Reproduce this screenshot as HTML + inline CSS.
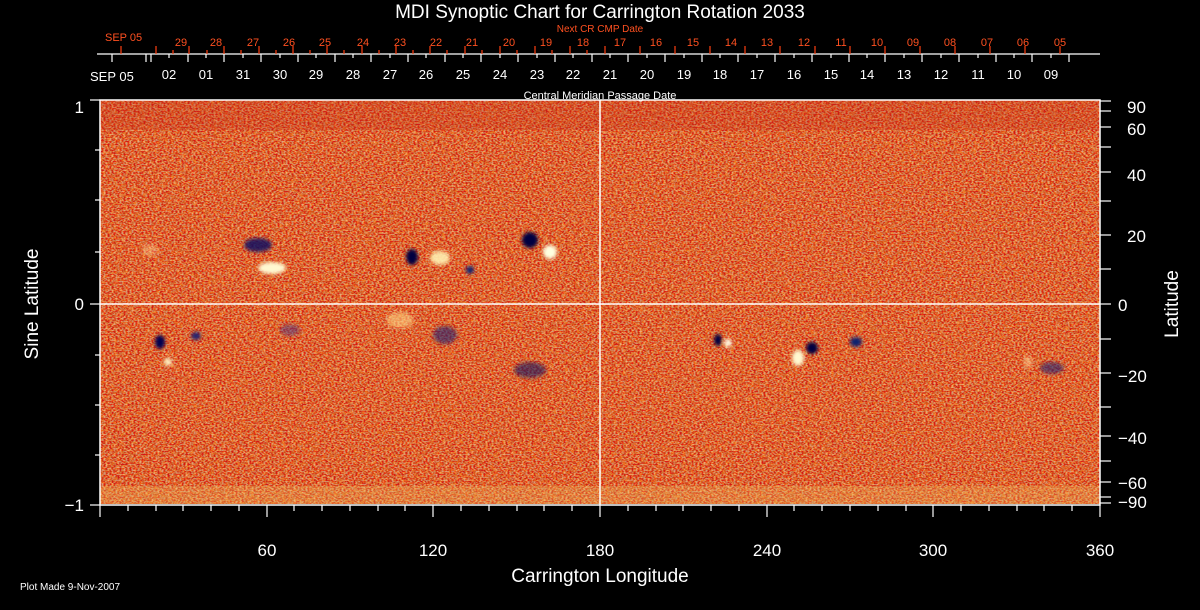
<!DOCTYPE html>
<html><head><meta charset="utf-8"><style>
html,body{margin:0;padding:0;background:#000;}
svg{display:block;font-family:"Liberation Sans",sans-serif;}
</style></head><body>
<svg width="1200" height="610" viewBox="0 0 1200 610" xmlns="http://www.w3.org/2000/svg">
<defs>
<filter id="n" x="0" y="0" width="100%" height="100%">
<feTurbulence type="fractalNoise" baseFrequency="0.5 0.7" numOctaves="2" seed="3"/>
<feColorMatrix type="matrix" values="0 0 0 0 1  0 0 0 2.4 -0.9  0 0 0 2.0 -1.0  0 0 0 0 1"/>
</filter>
<filter id="n2" x="0" y="0" width="100%" height="100%">
<feTurbulence type="fractalNoise" baseFrequency="0.35 0.5" numOctaves="1" seed="9"/>
<feColorMatrix type="matrix" values="0 0 0 -3 1.6  0 0 0 -3 1.5  0 0 0 0 0.2  0 0 0 0 1"/>
</filter>
<filter id="b" x="-50%" y="-50%" width="200%" height="200%"><feGaussianBlur stdDeviation="1.8"/></filter>
</defs>
<rect width="1200" height="610" fill="#000"/>
<rect x="100" y="100" width="1000" height="404" fill="#dd4418"/>
<rect x="100" y="100" width="1000" height="404" filter="url(#n)" opacity="0.6"/>
<rect x="100" y="100" width="1000" height="404" filter="url(#n2)" opacity="0.12"/>
<rect x="100" y="100" width="1000" height="30" fill="#c02818" opacity="0.25"/>
<rect x="100" y="486" width="1000" height="18" fill="#f0c060" opacity="0.3"/>
<g filter="url(#b)">
<ellipse cx="272" cy="268" rx="14" ry="6" fill="#fff8d0"/>
<ellipse cx="258" cy="245" rx="14" ry="7" fill="#101060" opacity="0.85"/>
<ellipse cx="412" cy="257" rx="6" ry="8" fill="#000040"/>
<ellipse cx="440" cy="258" rx="10" ry="7" fill="#fff0b0" opacity="0.9"/>
<ellipse cx="530" cy="240" rx="8" ry="8" fill="#000040"/>
<ellipse cx="550" cy="252" rx="7" ry="7" fill="#ffffe0"/>
<ellipse cx="470" cy="270" rx="4" ry="4" fill="#102070"/>
<ellipse cx="160" cy="342" rx="5" ry="7" fill="#000050"/>
<ellipse cx="168" cy="362" rx="4" ry="4" fill="#fff0c0"/>
<ellipse cx="196" cy="336" rx="5" ry="4" fill="#202070"/>
<ellipse cx="290" cy="330" rx="10" ry="6" fill="#503080" opacity="0.5"/>
<ellipse cx="400" cy="320" rx="14" ry="8" fill="#ffd080" opacity="0.6"/>
<ellipse cx="445" cy="335" rx="12" ry="9" fill="#202070" opacity="0.6"/>
<ellipse cx="530" cy="370" rx="16" ry="8" fill="#101060" opacity="0.6"/>
<ellipse cx="718" cy="340" rx="4" ry="6" fill="#000040"/>
<ellipse cx="728" cy="343" rx="4" ry="4" fill="#fff8e0"/>
<ellipse cx="798" cy="358" rx="6" ry="8" fill="#fff8d0"/>
<ellipse cx="812" cy="348" rx="6" ry="6" fill="#000040"/>
<ellipse cx="856" cy="342" rx="6" ry="5" fill="#102070"/>
<ellipse cx="1052" cy="368" rx="12" ry="6" fill="#202070" opacity="0.6"/>
<ellipse cx="1028" cy="362" rx="4" ry="6" fill="#ffd090" opacity="0.6"/>
<ellipse cx="150" cy="250" rx="8" ry="6" fill="#ffd090" opacity="0.4"/>
</g>
<line x1="600" y1="100" x2="600" y2="505" stroke="#fff" stroke-width="1.5"/>
<line x1="100" y1="304" x2="1100" y2="304" stroke="#fff" stroke-width="1.5"/>
<rect x="100" y="100" width="1000" height="405" fill="none" stroke="#fff" stroke-width="1.5"/>
<g stroke="#fff" stroke-width="1.2">
<line x1="90" y1="100" x2="100" y2="100"/><line x1="90" y1="304" x2="100" y2="304"/><line x1="90" y1="505" x2="100" y2="505"/>
<line x1="95" y1="150" x2="100" y2="150"/><line x1="95" y1="200" x2="100" y2="200"/><line x1="95" y1="252" x2="100" y2="252"/>
<line x1="95" y1="355" x2="100" y2="355"/><line x1="95" y1="405" x2="100" y2="405"/><line x1="95" y1="455" x2="100" y2="455"/>
</g>
<g fill="#fff" font-size="17" text-anchor="end">
<text x="84" y="113">1</text><text x="84" y="310">0</text><text x="84" y="511">−1</text>
</g>
<text x="38" y="304" fill="#fff" font-size="19" text-anchor="middle" transform="rotate(-90 38 304)">Sine Latitude</text>
<g stroke="#fff" stroke-width="1.2">
<line x1="1100" y1="101" x2="1111" y2="101"/><line x1="1100" y1="111" x2="1111" y2="111"/>
<line x1="1100" y1="127" x2="1111" y2="127"/><line x1="1100" y1="147" x2="1111" y2="147"/>
<line x1="1100" y1="172" x2="1111" y2="172"/><line x1="1100" y1="201" x2="1111" y2="201"/>
<line x1="1100" y1="235" x2="1111" y2="235"/><line x1="1100" y1="269" x2="1111" y2="269"/>
<line x1="1100" y1="304" x2="1111" y2="304"/><line x1="1100" y1="339" x2="1111" y2="339"/>
<line x1="1100" y1="373" x2="1111" y2="373"/><line x1="1100" y1="407" x2="1111" y2="407"/>
<line x1="1100" y1="436" x2="1111" y2="436"/><line x1="1100" y1="461" x2="1111" y2="461"/>
<line x1="1100" y1="482" x2="1111" y2="482"/><line x1="1100" y1="497" x2="1111" y2="497"/>
<line x1="1100" y1="503" x2="1111" y2="503"/>
</g>
<g fill="#fff" font-size="17">
<text x="1127" y="113">90</text><text x="1127" y="135">60</text><text x="1127" y="181">40</text>
<text x="1127" y="242">20</text><text x="1118" y="311">0</text><text x="1118" y="382">−20</text>
<text x="1118" y="444">−40</text><text x="1118" y="489">−60</text><text x="1118" y="508">−90</text>
</g>
<text x="1178" y="304" fill="#fff" font-size="19" text-anchor="middle" transform="rotate(-90 1178 304)">Latitude</text>
<g stroke="#fff" stroke-width="1.2">
<line x1="100" y1="505" x2="100" y2="517"/><line x1="267" y1="505" x2="267" y2="517"/><line x1="433" y1="505" x2="433" y2="517"/>
<line x1="600" y1="505" x2="600" y2="517"/><line x1="767" y1="505" x2="767" y2="517"/><line x1="933" y1="505" x2="933" y2="517"/><line x1="1100" y1="505" x2="1100" y2="517"/>
<line x1="128" y1="505" x2="128" y2="511"/><line x1="156" y1="505" x2="156" y2="511"/><line x1="183" y1="505" x2="183" y2="511"/><line x1="211" y1="505" x2="211" y2="511"/><line x1="239" y1="505" x2="239" y2="511"/>
<line x1="294" y1="505" x2="294" y2="511"/><line x1="322" y1="505" x2="322" y2="511"/><line x1="350" y1="505" x2="350" y2="511"/><line x1="378" y1="505" x2="378" y2="511"/><line x1="405" y1="505" x2="405" y2="511"/>
<line x1="461" y1="505" x2="461" y2="511"/><line x1="489" y1="505" x2="489" y2="511"/><line x1="517" y1="505" x2="517" y2="511"/><line x1="544" y1="505" x2="544" y2="511"/><line x1="572" y1="505" x2="572" y2="511"/>
<line x1="628" y1="505" x2="628" y2="511"/><line x1="656" y1="505" x2="656" y2="511"/><line x1="683" y1="505" x2="683" y2="511"/><line x1="711" y1="505" x2="711" y2="511"/><line x1="739" y1="505" x2="739" y2="511"/>
<line x1="794" y1="505" x2="794" y2="511"/><line x1="822" y1="505" x2="822" y2="511"/><line x1="850" y1="505" x2="850" y2="511"/><line x1="878" y1="505" x2="878" y2="511"/><line x1="906" y1="505" x2="906" y2="511"/>
<line x1="961" y1="505" x2="961" y2="511"/><line x1="989" y1="505" x2="989" y2="511"/><line x1="1017" y1="505" x2="1017" y2="511"/><line x1="1044" y1="505" x2="1044" y2="511"/><line x1="1072" y1="505" x2="1072" y2="511"/>
</g>
<g fill="#fff" font-size="17" text-anchor="middle">
<text x="267" y="556">60</text><text x="433" y="556">120</text><text x="600" y="556">180</text>
<text x="767" y="556">240</text><text x="933" y="556">300</text><text x="1100" y="556">360</text>
</g>
<text x="600" y="582" fill="#fff" font-size="19" text-anchor="middle">Carrington Longitude</text>
<text x="20" y="590" fill="#fff" font-size="10">Plot Made  9-Nov-2007</text>
<text x="600" y="18" fill="#fff" font-size="19" text-anchor="middle">MDI Synoptic Chart for Carrington Rotation 2033</text>
<text x="600" y="32" fill="#ff5020" font-size="10" text-anchor="middle">Next CR CMP Date</text>
<text x="600" y="99" fill="#fff" font-size="11" text-anchor="middle">Central Meridian Passage Date</text>
<line x1="97" y1="54" x2="1100" y2="54" stroke="#fff" stroke-width="1.2"/>
<text x="105" y="41" fill="#ff5020" font-size="11">SEP 05</text>
<text x="90" y="81" fill="#fff" font-size="13">SEP 05</text>
<g fill="#ff5020" font-size="11" text-anchor="middle">
<text x="181" y="46">29</text><text x="216" y="46">28</text><text x="253" y="46">27</text><text x="289" y="46">26</text><text x="325" y="46">25</text><text x="363" y="46">24</text><text x="400" y="46">23</text><text x="436" y="46">22</text><text x="472" y="46">21</text><text x="509" y="46">20</text><text x="546" y="46">19</text><text x="583" y="46">18</text><text x="620" y="46">17</text><text x="656" y="46">16</text><text x="693" y="46">15</text><text x="731" y="46">14</text><text x="767" y="46">13</text><text x="804" y="46">12</text><text x="841" y="46">11</text><text x="877" y="46">10</text><text x="913" y="46">09</text><text x="950" y="46">08</text><text x="987" y="46">07</text><text x="1023" y="46">06</text><text x="1060" y="46">05</text>
</g>
<g fill="#fff" font-size="13" text-anchor="middle">
<text x="169" y="79">02</text><text x="206" y="79">01</text><text x="243" y="79">31</text><text x="280" y="79">30</text><text x="316" y="79">29</text><text x="353" y="79">28</text><text x="390" y="79">27</text><text x="426" y="79">26</text><text x="463" y="79">25</text><text x="500" y="79">24</text><text x="537" y="79">23</text><text x="573" y="79">22</text><text x="610" y="79">21</text><text x="647" y="79">20</text><text x="684" y="79">19</text><text x="720" y="79">18</text><text x="757" y="79">17</text><text x="794" y="79">16</text><text x="831" y="79">15</text><text x="867" y="79">14</text><text x="904" y="79">13</text><text x="941" y="79">12</text><text x="978" y="79">11</text><text x="1014" y="79">10</text><text x="1051" y="79">09</text>
</g>
<g stroke="#fff" stroke-width="1.2">
<line x1="112" y1="54" x2="112" y2="62"/><line x1="146" y1="54" x2="146" y2="62"/>
<line x1="151" y1="54" x2="151" y2="62"/><line x1="188" y1="54" x2="188" y2="62"/><line x1="224" y1="54" x2="224" y2="62"/><line x1="261" y1="54" x2="261" y2="62"/><line x1="298" y1="54" x2="298" y2="62"/><line x1="335" y1="54" x2="335" y2="62"/><line x1="371" y1="54" x2="371" y2="62"/><line x1="408" y1="54" x2="408" y2="62"/><line x1="445" y1="54" x2="445" y2="62"/><line x1="481" y1="54" x2="481" y2="62"/><line x1="518" y1="54" x2="518" y2="62"/><line x1="555" y1="54" x2="555" y2="62"/><line x1="592" y1="54" x2="592" y2="62"/><line x1="628" y1="54" x2="628" y2="62"/><line x1="665" y1="54" x2="665" y2="62"/><line x1="702" y1="54" x2="702" y2="62"/><line x1="738" y1="54" x2="738" y2="62"/><line x1="775" y1="54" x2="775" y2="62"/><line x1="812" y1="54" x2="812" y2="62"/><line x1="849" y1="54" x2="849" y2="62"/><line x1="885" y1="54" x2="885" y2="62"/><line x1="922" y1="54" x2="922" y2="62"/><line x1="959" y1="54" x2="959" y2="62"/><line x1="996" y1="54" x2="996" y2="62"/><line x1="1032" y1="54" x2="1032" y2="62"/><line x1="1069" y1="54" x2="1069" y2="62"/>
<line x1="169" y1="54" x2="169" y2="58"/><line x1="206" y1="54" x2="206" y2="58"/><line x1="243" y1="54" x2="243" y2="58"/><line x1="280" y1="54" x2="280" y2="58"/><line x1="316" y1="54" x2="316" y2="58"/><line x1="353" y1="54" x2="353" y2="58"/><line x1="390" y1="54" x2="390" y2="58"/><line x1="426" y1="54" x2="426" y2="58"/><line x1="463" y1="54" x2="463" y2="58"/><line x1="500" y1="54" x2="500" y2="58"/><line x1="537" y1="54" x2="537" y2="58"/><line x1="573" y1="54" x2="573" y2="58"/><line x1="610" y1="54" x2="610" y2="58"/><line x1="647" y1="54" x2="647" y2="58"/><line x1="684" y1="54" x2="684" y2="58"/><line x1="720" y1="54" x2="720" y2="58"/><line x1="757" y1="54" x2="757" y2="58"/><line x1="794" y1="54" x2="794" y2="58"/><line x1="831" y1="54" x2="831" y2="58"/><line x1="867" y1="54" x2="867" y2="58"/><line x1="904" y1="54" x2="904" y2="58"/><line x1="941" y1="54" x2="941" y2="58"/><line x1="978" y1="54" x2="978" y2="58"/><line x1="1014" y1="54" x2="1014" y2="58"/><line x1="1051" y1="54" x2="1051" y2="58"/>
</g>
<g stroke="#ff4010" stroke-width="1.2">
<line x1="121" y1="46" x2="121" y2="54"/><line x1="156" y1="46" x2="156" y2="54"/><line x1="189" y1="46" x2="189" y2="54"/><line x1="224" y1="46" x2="224" y2="54"/><line x1="259" y1="46" x2="259" y2="54"/><line x1="293" y1="46" x2="293" y2="54"/><line x1="327" y1="46" x2="327" y2="54"/><line x1="362" y1="46" x2="362" y2="54"/><line x1="396" y1="46" x2="396" y2="54"/><line x1="430" y1="46" x2="430" y2="54"/><line x1="465" y1="46" x2="465" y2="54"/><line x1="500" y1="46" x2="500" y2="54"/><line x1="535" y1="46" x2="535" y2="54"/><line x1="570" y1="46" x2="570" y2="54"/><line x1="605" y1="46" x2="605" y2="54"/><line x1="640" y1="46" x2="640" y2="54"/><line x1="675" y1="46" x2="675" y2="54"/><line x1="710" y1="46" x2="710" y2="54"/><line x1="745" y1="46" x2="745" y2="54"/><line x1="780" y1="46" x2="780" y2="54"/><line x1="815" y1="46" x2="815" y2="54"/><line x1="850" y1="46" x2="850" y2="54"/><line x1="885" y1="46" x2="885" y2="54"/><line x1="920" y1="46" x2="920" y2="54"/><line x1="955" y1="46" x2="955" y2="54"/><line x1="990" y1="46" x2="990" y2="54"/><line x1="1025" y1="46" x2="1025" y2="54"/><line x1="1060" y1="46" x2="1060" y2="54"/>
<line x1="173" y1="50" x2="173" y2="54"/><line x1="207" y1="50" x2="207" y2="54"/><line x1="241" y1="50" x2="241" y2="54"/><line x1="276" y1="50" x2="276" y2="54"/><line x1="310" y1="50" x2="310" y2="54"/><line x1="344" y1="50" x2="344" y2="54"/><line x1="379" y1="50" x2="379" y2="54"/><line x1="413" y1="50" x2="413" y2="54"/><line x1="447" y1="50" x2="447" y2="54"/><line x1="482" y1="50" x2="482" y2="54"/><line x1="517" y1="50" x2="517" y2="54"/><line x1="552" y1="50" x2="552" y2="54"/><line x1="587" y1="50" x2="587" y2="54"/>
</g>
</svg>
</body></html>
